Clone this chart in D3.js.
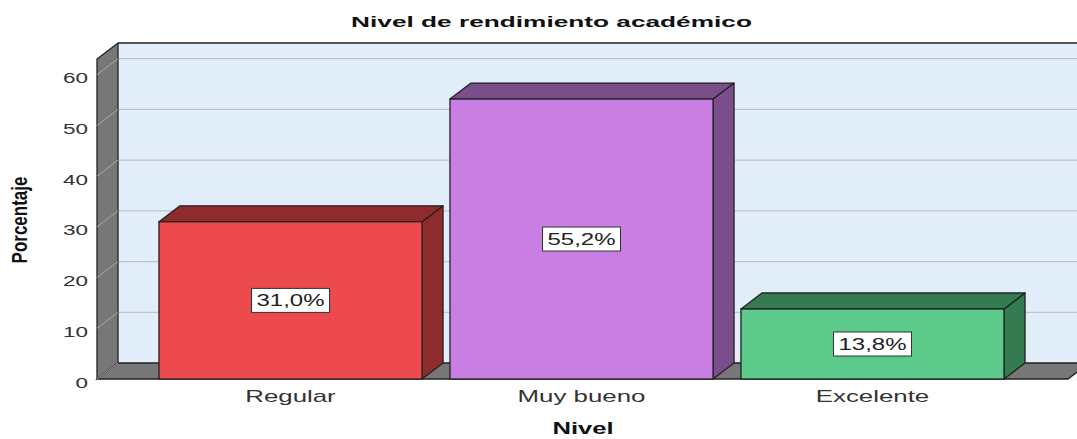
<!DOCTYPE html>
<html>
<head>
<meta charset="utf-8">
<script src="https://cdn.jsdelivr.net/npm/d3@7"></script>
<style>
    body { margin: 0; background: #ffffff; }
    svg { display: block; font-family: "Liberation Sans", Arial, sans-serif; }
</style>
</head>
<body>
<div id="chart"></div>
<script>

// chart data
const categories = ["Regular", "Muy bueno", "Excelente"];
const values = [31.0, 55.2, 13.8];
const yTicks = [0, 10, 20, 30, 40, 50, 60];
const frontColors = ["#ec4a4d", "#c97ee3", "#5bca8b"];
const sideColors = ["#8f2b2c", "#7a4e8a", "#357b51"];

const titleText = "Nivel de rendimiento académico";
const xTitle = "Nivel";
const yTitle = "Porcentaje";

class bar_chart_3d{

    constructor(div_id, width, height){
        var self = this;

        self.width = width;
        self.height = height;
        // depth of the 3d box (back plane is up and to the right)
        self.depth = {x: 21, y: -16};

        self.svg = d3.select(`#${div_id}`).append("svg")
            .attr("width", width)
            .attr("height", height)

        self.viz = self.svg.append("g");

        self.xScale = d3.scaleBand()
            .domain(categories)
            .range([97, 1066])
            .paddingInner(0.096)
            .paddingOuter(0.213)

        self.yScale = d3.scaleLinear()
            .domain([0, 63.1])
            .range([379, 59])

        // comma decimal like the original
        self.fmt = d3.formatLocale({decimal: ",", thousands: ".", grouping: [3], currency: ["", "%"]}).format(".1f");
    }

    draw(){
        var self = this;
        let dx = self.depth.x, dy = self.depth.y;
        let x0 = self.xScale.range()[0];
        let x1 = self.xScale.range()[1];
        let yTop = self.yScale(self.yScale.domain()[1]);
        let yBase = self.yScale(0);

        // back plane
        self.viz.append("rect")
            .attr("x", x0 + dx)
            .attr("y", yTop + dy)
            .attr("width", self.width - x0 - dx + 5)
            .attr("height", yBase - yTop)
            .attr("fill", "#e1eefa")

        // gridlines on back plane
        self.viz.append("g")
            .selectAll("line")
            .data(yTicks.filter(d => d > 0))
            .enter()
            .append("line")
                .attr("x1", x0 + dx)
                .attr("x2", self.width + 5)
                .attr("y1", d => self.yScale(d) + dy)
                .attr("y2", d => self.yScale(d) + dy)
                .attr("stroke", "#bfc3c8")
                .attr("stroke-width", 1.2)

        self.viz.append("line")
            .attr("x1", x0 + dx).attr("x2", self.width + 5)
            .attr("y1", yTop + dy).attr("y2", yTop + dy)
            .attr("stroke", "#222").attr("stroke-width", 1.3)

        // left wall
        self.viz.append("path")
            .attr("d", `M${x0},${yTop}L${x0 + dx},${yTop + dy}L${x0 + dx},${yBase + dy}L${x0},${yBase}Z`)
            .attr("fill", "#777777")
            .attr("stroke", "#222")
            .attr("stroke-width", 1.3)

        self.viz.append("g")
            .selectAll("line")
            .data(yTicks.filter(d => d > 0))
            .enter()
            .append("line")
                .attr("x1", x0)
                .attr("x2", x0 + dx)
                .attr("y1", d => self.yScale(d))
                .attr("y2", d => self.yScale(d) + dy)
                .attr("stroke", "#a9a9a9")
                .attr("stroke-width", 1)

        // floor
        self.viz.append("path")
            .attr("d", `M${x0},${yBase}L${x0 + dx},${yBase + dy}L${x1 + 2 + dx},${yBase + dy}L${x1 + 2},${yBase}Z`)
            .attr("fill", "#777777")
            .attr("stroke", "#222")
            .attr("stroke-width", 1.3)

        self.viz.append("line")
            .attr("x1", x0).attr("x2", x0 + dx)
            .attr("y1", yBase).attr("y2", yBase + dy)
            .attr("stroke", "#a9a9a9")

        // y axis
        let yAxis = d3.axisLeft(self.yScale)
            .tickValues(yTicks)
            .tickSize(0)
            .tickFormat(d3.format("d"))

        let yg = self.viz.append("g")
            .attr("class", "y-axis")
            .attr("transform", `translate(${x0}, 0)`)
            .call(yAxis)
        yg.select(".domain").remove()
        yg.selectAll("text")
            .attr("x", -6)
            .attr("dy", 8)
            .attr("transform", "scale(1.5,1)")
            .attr("font-family", '"Liberation Sans", Arial, sans-serif')
            .attr("font-size", 15)
            .attr("fill", "#333")

        // x axis
        let xAxis = d3.axisBottom(self.xScale).tickSize(0)
        let xg = self.viz.append("g")
            .attr("class", "x-axis")
            .attr("transform", `translate(0, ${yBase})`)
            .call(xAxis)
        xg.select(".domain").remove()
        xg.selectAll("text")
            .attr("y", 23)
            .attr("dy", 0)
            .attr("transform", "scale(1.52,1)")
            .attr("font-family", '"Liberation Sans", Arial, sans-serif')
            .attr("font-size", 17)
            .attr("fill", "#333")

        // bars
        let bars = self.viz.append("g")
            .attr("class", "bars")
            .selectAll("g")
            .data(values.map((v, i) => ({cat: categories[i], value: v, i: i})))
            .enter()
            .append("g")

        let bw = self.xScale.bandwidth();

        bars.append("path")
            .attr("d", d => {
                let bx = self.xScale(d.cat), by = self.yScale(d.value);
                return `M${bx + bw},${by}L${bx + bw + dx},${by + dy}L${bx + bw + dx},${yBase + dy}L${bx + bw},${yBase}Z`;
            })
            .attr("fill", d => sideColors[d.i])
            .attr("stroke", "#222")
            .attr("stroke-width", 1.3)
            .attr("stroke-linejoin", "round")

        bars.append("path")
            .attr("d", d => {
                let bx = self.xScale(d.cat), by = self.yScale(d.value);
                return `M${bx},${by}L${bx + dx},${by + dy}L${bx + bw + dx},${by + dy}L${bx + bw},${by}Z`;
            })
            .attr("fill", d => sideColors[d.i])
            .attr("stroke", "#222")
            .attr("stroke-width", 1.3)
            .attr("stroke-linejoin", "round")

        bars.append("rect")
            .attr("x", d => self.xScale(d.cat))
            .attr("y", d => self.yScale(d.value))
            .attr("width", bw)
            .attr("height", d => yBase - self.yScale(d.value))
            .attr("fill", d => frontColors[d.i])
            .attr("stroke", "#222")
            .attr("stroke-width", 1.3)

        // value labels
        let labels = bars.append("g")
            .attr("transform", d => `translate(${self.xScale(d.cat) + bw / 2}, ${(self.yScale(d.value) + yBase) / 2})`)

        labels.append("rect")
            .attr("x", -39)
            .attr("y", -12)
            .attr("width", 78)
            .attr("height", 24)
            .attr("fill", "#ffffff")
            .attr("stroke", "#333")
            .attr("stroke-width", 1)

        labels.append("text")
            .attr("text-anchor", "middle")
            .attr("y", 6)
            .attr("transform", "scale(1.5,1)")
            .attr("font-size", 16)
            .attr("fill", "#222")
            .text(d => self.fmt(d.value) + "%")

        // titles
        self.svg.append("text")
            .attr("text-anchor", "middle")
            .attr("transform", "translate(551.5, 27) scale(1.75,1)")
            .attr("font-size", 15)
            .attr("font-weight", "bold")
            .attr("fill", "#111")
            .text(titleText)

        self.svg.append("text")
            .attr("text-anchor", "middle")
            .attr("transform", "translate(583, 434) scale(1.6,1)")
            .attr("font-size", 16)
            .attr("font-weight", "bold")
            .attr("fill", "#111")
            .text(xTitle)

        self.svg.append("text")
            .attr("text-anchor", "middle")
            .attr("transform", "translate(27, 220) scale(1.3,1) rotate(-90)")
            .attr("font-size", 17)
            .attr("font-weight", "bold")
            .attr("fill", "#111")
            .text(yTitle)
    }
}

let chart = new bar_chart_3d("chart", 1077, 439);
chart.draw();

</script>
</body>
</html>
